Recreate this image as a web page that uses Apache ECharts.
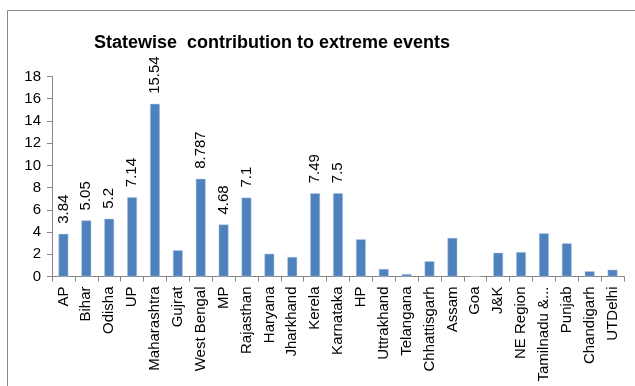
<!DOCTYPE html>
<html>
<head>
<meta charset="utf-8">
<script src="https://cdn.jsdelivr.net/npm/echarts@6/dist/echarts.min.js"></script>
<style>html,body{margin:0;padding:0;background:#fff}#c{width:635px;height:386px}</style>
</head>
<body>
<div id="c"></div>
<script>
const categories = ['AP','Bihar','Odisha','UP','Maharashtra','Gujrat','West Bengal','MP','Rajasthan','Haryana','Jharkhand','Kerela','Karnataka','HP','Uttrakhand','Telangana','Chhattisgarh','Assam','Goa','J&K','NE Region','Tamilnadu &...','Punjab','Chandigarh','UTDelhi'];
const values = [3.84,5.05,5.2,7.14,15.54,2.36,8.787,4.68,7.1,2.05,1.76,7.49,7.5,3.35,0.68,0.22,1.37,3.47,0,2.14,2.2,3.89,2.99,0.47,0.61];
const labeledCategories = ['AP','Bihar','Odisha','UP','Maharashtra','West Bengal','MP','Rajasthan','Kerela','Karnataka'];
const yTicks = {min:0, max:18, interval:2};
const titleText = 'Statewise  contribution to extreme events';

const font = 'Liberation Sans';
const chart = echarts.init(document.getElementById('c'), null, {renderer:'canvas'});
chart.setOption({
  animation:false,
  backgroundColor:'#fff',
  textStyle:{fontFamily:font},
  title:{text:titleText,left:267,top:29,textAlign:'center',
    textStyle:{fontFamily:font,fontSize:18,fontWeight:'bold',color:'#000'}},
  graphic:[{type:'rect',shape:{x:7.5,y:10.5,width:700,height:500},
    style:{fill:'none',stroke:'#878787',lineWidth:1},silent:true}],
  grid:{left:52,right:11,top:76.5,bottom:109.5,containLabel:false},
  xAxis:{type:'category',data:categories,
    axisLine:{lineStyle:{color:'#868686'}},
    axisTick:{show:true,length:5,lineStyle:{color:'#868686'}},
    axisLabel:{rotate:90,interval:0,color:'#000',fontSize:15,margin:10,fontFamily:font}},
  yAxis:{type:'value',min:yTicks.min,max:yTicks.max,interval:yTicks.interval,
    splitLine:{show:false},
    axisLine:{show:true,lineStyle:{color:'#868686'}},
    axisTick:{show:true,length:5,lineStyle:{color:'#868686'}},
    axisLabel:{color:'#000',fontSize:15,margin:11,fontFamily:font}},
  series:[{type:'bar',barWidth:'43%',
    itemStyle:{color:'#4F81BD',borderColor:'#B9CDE5',borderWidth:0.5},
    data:values.map((v,i)=>({value:v,label:{show:labeledCategories.includes(categories[i])}})),
    label:{position:'top',rotate:90,align:'left',verticalAlign:'middle',distance:10,
      color:'#000',fontSize:15,fontFamily:font}
  }]
});
</script>
</body>
</html>
